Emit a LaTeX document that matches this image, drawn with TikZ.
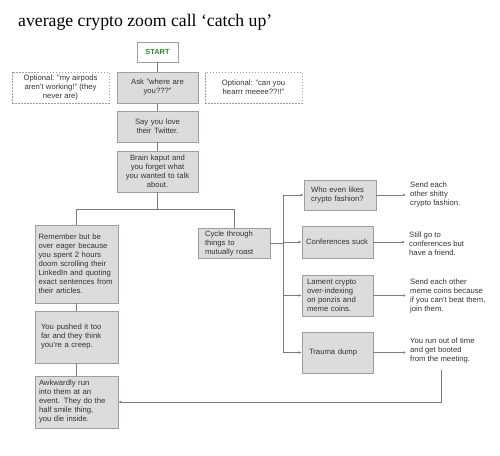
\documentclass[tikz,border=0pt]{standalone}
\usepackage{fontspec}
\setmainfont{Liberation Sans}
\newfontfamily\titlefont{Liberation Serif}
\usetikzlibrary{arrows.meta}
\definecolor{boxc}{HTML}{DDDBDE}
\definecolor{bordc}{HTML}{9E9E9E}
\definecolor{linec}{HTML}{7A7A7A}
\definecolor{txtc}{HTML}{333333}
\definecolor{startc}{HTML}{2E8B2E}
\tikzset{
  base/.style={font=\fontsize{7.7}{9}\selectfont, text=txtc, inner ysep=0pt},
  bx/.style n args={3}{base, draw=bordc, fill=boxc, line width=0.7pt,
     text width=#1, inner xsep=#2, minimum height=#3},
  optbox/.style={base, draw=bordc, dashed, dash pattern=on 1.5pt off 1.5pt, line width=0.6pt,
     minimum width=97pt, minimum height=31pt, align=center},
  freetxt/.style={base, anchor=west, align=left, inner sep=0pt},
  conn/.style={draw=linec, line width=0.7pt},
  arr/.style={conn, -{Latex[length=3pt,width=2.6pt]}}
}
\begin{document}
\begin{tikzpicture}[x=1pt,y=-1pt]
\useasboundingbox (0,0) rectangle (500,455);
\node[anchor=base west, inner sep=0pt, font=\titlefont\fontsize{17.7}{20}\selectfont] (title) at (18,26) {average crypto zoom call ‘catch up’};

\node[base, draw=bordc, fill=white, line width=0.7pt, minimum width=41pt, minimum height=20pt, text=startc, font=\fontsize{7.4}{9}\selectfont\bfseries] (start) at (157.5,52) {START};
\node[optbox] (optL) at (60.5,87.5) {Optional: "my airpods\\aren’t working!" (they\\never are)};
\node[bx={73pt}{4pt}{31pt}, align=center] (ask) at (157.5,87.5) {Ask "where are\\you???"};
\node[optbox] (optR) at (253.5,87.5) {Optional: "can you\\hearrr meeee??!!"};
\node[bx={73pt}{4pt}{31pt}, align=center] (say) at (157.5,126.5) {Say you love\\their Twitter.};
\node[bx={73pt}{4pt}{41pt}, align=center] (brain) at (157.5,171.5) {Brain kaput and\\you forget what\\you wanted to talk\\about.};

\node[bx={76pt}{3.5pt}{78pt}, align=left] (remember) at (76.5,264) {Remember but be\\over eager because\\you spent 2 hours\\doom scrolling their\\LinkedIn and quoting\\exact sentences from\\their articles.};
\node[bx={71pt}{6pt}{52pt}, align=left] (pushed) at (76.5,337) {You pushed it too\\far and they think\\you’re a creep.};
\node[bx={75pt}{4pt}{52pt}, align=left] (awk) at (76.5,402) {Awkwardly run\\into them at an\\event. They do the\\half smile thing,\\you die inside.};

\node[bx={58pt}{7pt}{30pt}, align=left] (cycle) at (234,243.5) {Cycle through\\things to\\mutually roast};

\node[bx={58pt}{7pt}{30pt}, align=left] (who) at (340,195) {Who even likes\\crypto fashion?};
\node[bx={63pt}{4pt}{32pt}, align=left] (conf) at (337.5,242) {Conferences suck};
\node[bx={61pt}{5pt}{41pt}, align=left] (lament) at (337.5,295.5) {Lament crypto\\over-indexing\\on ponzis and\\meme coins.};
\node[bx={57pt}{7pt}{41pt}, align=left] (trauma) at (337.5,352.5) {Trauma dump};

\node[freetxt] (t1) at (410,195) {Send each\\other shitty\\crypto fashion.};
\node[freetxt] (t2) at (409,244) {Still go to\\conferences but\\have a friend.};
\node[freetxt] (t3) at (410,296.5) {Send each other\\meme coins because\\if you can’t beat them,\\join them.};
\node[freetxt] (t4) at (410,351) {You run out of time\\and get booted\\from the meeting.};

\coordinate (br) at (157.5,209);
\coordinate (sp) at (283,243.5);
\coordinate (spT) at (283,195);
\coordinate (spB) at (283,352.5);
\coordinate (rtop) at (441,370);

\draw[conn] (start) -- (ask);
\draw[conn] (ask) -- (say);
\draw[conn] (say) -- (brain);
\draw[conn] (brain.south) -- (br);
\draw[conn] (br) -| (remember.north);
\draw[conn] (br) -| (cycle.north);
\draw[conn] (remember) -- (pushed);
\draw[conn] (pushed) -- (awk);
\draw[conn] (cycle.east) -- (sp);
\draw[conn] (spT) -- (spB);
\draw[arr] (spT) -- (who.west);
\draw[arr] (conf.west -| sp) -- (conf.west);
\draw[arr] (lament.west -| sp) -- (lament.west);
\draw[arr] (spB) -- (trauma.west);
\draw[arr] (who.east) -- ([xshift=-4pt]t1.west);
\draw[arr] (conf.east) -- ([xshift=-4pt]conf.east -| t2.west);
\draw[arr] (lament.east) -- ([xshift=-4pt]lament.east -| t3.west);
\draw[arr] (trauma.east) -- ([xshift=-4pt]trauma.east -| t4.west);
\draw[arr] (rtop) |- (awk.east);
\end{tikzpicture}
\end{document}
